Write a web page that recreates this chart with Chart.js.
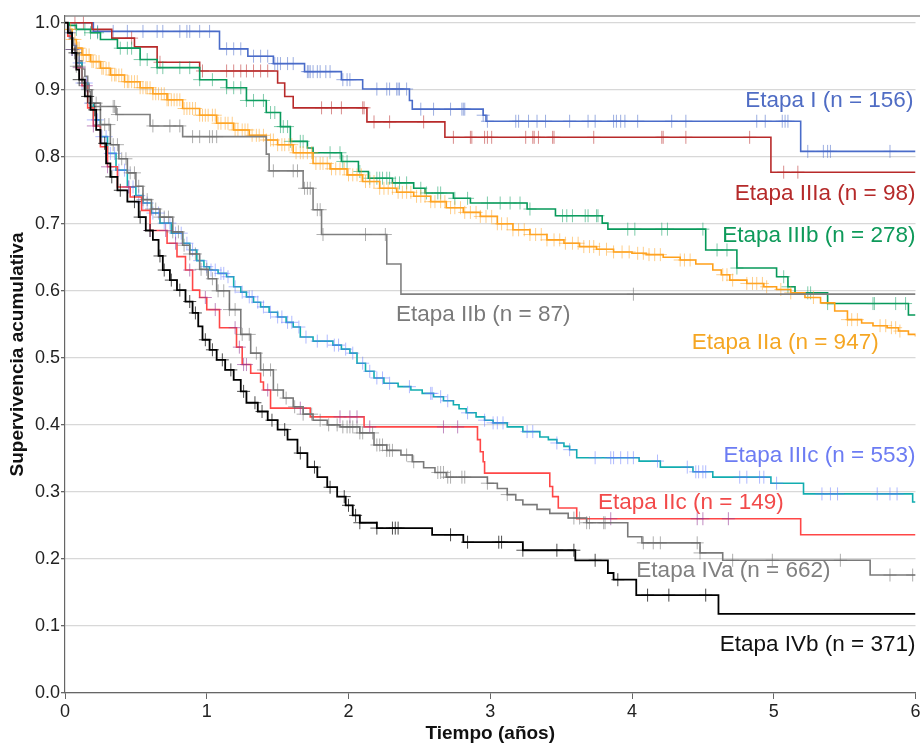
<!DOCTYPE html>
<html><head><meta charset="utf-8">
<script src="https://cdn.jsdelivr.net/npm/chart.js@4.4.1/dist/chart.umd.min.js"></script>
<style>html,body{margin:0;padding:0;background:#fff;overflow:hidden;width:920px;height:745px}#wrap{width:923px;height:745px;position:relative}</style>
</head><body><div id="wrap"><canvas id="c"></canvas></div>
<script>
// ---------- DATA (time in years, cumulative survival) ----------
const I_t = [0, 0.2, 1.09, 1.29, 1.47, 1.69, 1.95, 2.10, 2.43, 2.45, 2.95, 2.97, 5.19, 6.0];
const I_s = [1.0, 0.987, 0.961, 0.950, 0.939, 0.927, 0.915, 0.901, 0.884, 0.871, 0.862, 0.853, 0.808, 0.808];
const I_c = [0.23,0.34,0.44,0.55,0.65,0.69,0.81,0.86,0.88,0.95,1.02,1.14,1.19,1.24,1.33,1.38,1.43,1.48,1.50,1.52,1.57,1.61,1.71,1.72,1.73,1.75,1.78,1.80,1.84,1.87,1.96,1.99,2.01,2.20,2.27,2.29,2.34,2.35,2.36,2.41,2.51,2.60,2.72,2.80,2.81,2.82,2.95,2.98,3.18,3.20,3.27,3.33,3.39,3.56,3.69,3.74,3.87,3.89,3.92,3.95,4.04,4.28,4.38,4.88,4.94,5.06,5.08,5.10,5.24,5.35,5.38,5.40,5.82];

const IIIa_t = [0, 0.19, 0.33, 0.49, 0.65, 0.95, 1.50, 1.55, 1.61, 2.13, 2.68, 4.98, 6.0];
const IIIa_s = [1.0, 0.99, 0.977, 0.964, 0.941, 0.928, 0.91, 0.89, 0.873, 0.852, 0.829, 0.777, 0.777];
const IIIa_c = [0.07,0.13,0.47,0.67,0.97,1.14,1.19,1.24,1.28,1.33,1.38,1.43,1.81,1.88,1.95,2.10,2.11,2.18,2.29,2.53,2.74,2.86,2.87,2.96,2.98,3.01,3.25,3.30,3.31,3.34,3.44,3.45,3.73,4.21,4.22,4.38,4.83,5.07,5.17];

const IIIb_t = [0, 0.03, 0.08, 0.18, 0.25, 0.37, 0.53, 0.65, 0.95, 1.14, 1.28, 1.42, 1.52, 1.59, 1.71, 1.75, 1.95, 2.07, 2.14, 2.31, 2.46, 2.54, 2.74, 2.86, 3.26, 3.46, 3.79, 3.83, 4.52, 4.74, 5.02, 5.10, 5.15, 5.38, 5.95, 6.0];
const IIIb_s = [1.0, 0.996, 0.99, 0.985, 0.975, 0.962, 0.945, 0.933, 0.915, 0.903, 0.884, 0.866, 0.845, 0.823, 0.813, 0.806, 0.793, 0.778, 0.768, 0.761, 0.753, 0.746, 0.738, 0.731, 0.722, 0.712, 0.701, 0.692, 0.661, 0.634, 0.621, 0.606, 0.597, 0.581, 0.564, 0.564];
const IIIb_c = [0.08,0.14,0.18,0.23,0.39,0.44,0.47,0.53,0.58,0.65,0.69,0.81,0.88,0.95,1.04,1.14,1.19,1.24,1.28,1.33,1.40,1.45,1.48,1.52,1.54,1.57,1.59,1.66,1.68,1.75,1.87,1.94,1.96,1.99,2.08,2.15,2.20,2.22,2.24,2.27,2.29,2.33,2.36,2.41,2.51,2.55,2.63,2.65,2.75,2.84,2.98,3.07,3.14,3.21,3.28,3.51,3.54,3.58,3.67,3.69,3.75,3.76,3.97,4.02,4.21,4.25,4.50,4.60,4.67,4.74,5.07,5.10,5.24,5.26,5.38,5.70,5.71,5.86,5.93];

const IIa_t = [0, 0.02, 0.05, 0.08, 0.12, 0.18, 0.25, 0.32, 0.42, 0.53, 0.62, 0.72, 0.83, 0.95, 1.07, 1.19, 1.30, 1.42, 1.50, 1.61, 1.75, 1.87, 1.99, 2.10, 2.22, 2.34, 2.46, 2.58, 2.69, 2.81, 2.93, 3.05, 3.16, 3.28, 3.40, 3.52, 3.63, 3.75, 3.87, 4.00, 4.10, 4.22, 4.34, 4.45, 4.57, 4.63, 4.69, 4.81, 4.93, 5.02, 5.12, 5.22, 5.33, 5.43, 5.52, 5.62, 5.70, 5.80, 5.88, 5.95, 6.0];
const IIa_s = [1.0, 0.99, 0.975, 0.962, 0.952, 0.942, 0.932, 0.922, 0.912, 0.903, 0.894, 0.885, 0.872, 0.862, 0.85, 0.84, 0.832, 0.825, 0.818, 0.806, 0.79, 0.782, 0.773, 0.763, 0.753, 0.747, 0.741, 0.733, 0.724, 0.717, 0.711, 0.70, 0.691, 0.684, 0.676, 0.671, 0.666, 0.662, 0.658, 0.656, 0.654, 0.65, 0.646, 0.64, 0.631, 0.624, 0.616, 0.611, 0.606, 0.602, 0.597, 0.59, 0.582, 0.57, 0.557, 0.552, 0.548, 0.545, 0.54, 0.535, 0.532];
const IIa_c = [0.02,0.04,0.05,0.07,0.09,0.10,0.12,0.13,0.15,0.17,0.19,0.20,0.22,0.24,0.26,0.27,0.29,0.31,0.33,0.35,0.36,0.38,0.40,0.42,0.44,0.45,0.47,0.49,0.51,0.53,0.55,0.57,0.58,0.60,0.62,0.64,0.66,0.68,0.70,0.72,0.73,0.75,0.77,0.79,0.81,0.84,0.86,0.88,0.90,0.92,0.95,0.97,0.99,1.01,1.04,1.06,1.08,1.10,1.13,1.15,1.18,1.20,1.22,1.25,1.27,1.29,1.32,1.35,1.37,1.40,1.42,1.45,1.47,1.50,1.53,1.55,1.58,1.60,1.63,1.66,1.68,1.71,1.74,1.77,1.80,1.82,1.85,1.88,1.91,1.94,1.97,2.00,2.03,2.06,2.09,2.12,2.15,2.18,2.22,2.25,2.28,2.31,2.35,2.38,2.41,2.44,2.48,2.51,2.54,2.58,2.61,2.65,2.68,2.72,2.75,2.79,2.82,2.86,2.90,2.93,2.97,3.01,3.05,3.08,3.12,3.16,3.20,3.24,3.28,3.32,3.36,3.40,3.45,3.49,3.53,3.58,3.62,3.66,3.70,3.73,3.77,3.82,3.87,3.93,3.98,4.04,4.08,4.12,4.16,4.20,4.34,4.37,4.41,4.64,4.67,4.71,4.81,4.85,4.88,4.92,4.95,5.05,5.12,5.28,5.52,5.55,5.59,5.75,5.79,5.83,5.86,5.89];

const IIb_t = [0, 0.02, 0.04, 0.06, 0.08, 0.10, 0.12, 0.14, 0.16, 0.17, 0.18, 0.36, 0.60, 0.83, 1.42, 1.44, 1.68, 1.75, 1.81, 2.27, 2.37, 6.0];
const IIb_s = [1.0, 0.989, 0.977, 0.966, 0.954, 0.943, 0.931, 0.92, 0.908, 0.897, 0.875, 0.863, 0.846, 0.830, 0.804, 0.779, 0.753, 0.721, 0.684, 0.64, 0.595, 0.595];
const IIb_c = [0.34,0.35,0.37,0.62,0.74,0.81,0.90,0.95,1.02,1.04,1.07,1.47,1.61,1.64,1.69,1.71,1.73,1.78,1.80,1.82,2.12,2.26,4.01];

const IIIc_t = [0, 0.02, 0.05, 0.08, 0.12, 0.16, 0.20, 0.25, 0.30, 0.36, 0.44, 0.50, 0.55, 0.61, 0.67, 0.75, 0.83, 0.88, 0.93, 0.98, 1.02, 1.08, 1.14, 1.19, 1.24, 1.28, 1.33, 1.38, 1.44, 1.50, 1.56, 1.61, 1.66, 1.75, 1.89, 1.95, 2.01, 2.06, 2.12, 2.18, 2.25, 2.35, 2.44, 2.52, 2.60, 2.67, 2.74, 2.78, 2.83, 2.90, 2.96, 3.02, 3.12, 3.23, 3.35, 3.41, 3.47, 3.52, 3.56, 3.61, 4.05, 4.20, 4.43, 4.57, 4.98, 5.21, 5.98, 6.0];
const IIIc_s = [1.0, 0.985, 0.96, 0.94, 0.91, 0.88, 0.855, 0.83, 0.805, 0.78, 0.755, 0.742, 0.731, 0.716, 0.701, 0.686, 0.671, 0.661, 0.645, 0.636, 0.631, 0.626, 0.621, 0.606, 0.598, 0.591, 0.583, 0.576, 0.568, 0.561, 0.553, 0.546, 0.531, 0.525, 0.519, 0.513, 0.507, 0.492, 0.48, 0.47, 0.462, 0.457, 0.452, 0.447, 0.442, 0.436, 0.43, 0.424, 0.418, 0.412, 0.407, 0.403, 0.397, 0.39, 0.382, 0.378, 0.373, 0.368, 0.363, 0.351, 0.346, 0.337, 0.33, 0.322, 0.313, 0.297, 0.285, 0.285];
const IIIc_c = [0.03,0.05,0.07,0.10,0.12,0.15,0.18,0.20,0.23,0.26,0.29,0.32,0.35,0.38,0.42,0.45,0.48,0.52,0.55,0.58,0.62,0.66,0.70,0.74,0.78,0.82,0.86,0.90,0.95,1.00,1.03,1.06,1.10,1.12,1.15,1.20,1.25,1.30,1.32,1.36,1.40,1.45,1.50,1.53,1.57,1.60,1.65,1.70,1.78,1.85,1.90,1.93,1.98,2.03,2.10,2.15,2.20,2.24,2.29,2.43,2.58,2.59,2.65,2.70,2.84,2.96,3.02,3.05,3.09,3.26,3.30,3.47,3.56,3.74,3.85,3.87,3.92,3.97,4.01,4.18,4.39,4.45,4.47,4.50,4.52,4.76,4.81,4.90,4.93,5.02,5.34,5.40,5.45,5.73,5.82,5.87];

const IIc_t = [0, 0.02, 0.05, 0.08, 0.12, 0.16, 0.20, 0.25, 0.30, 0.37, 0.46, 0.54, 0.60, 0.72, 0.79, 0.85, 0.90, 0.95, 1.00, 1.09, 1.21, 1.25, 1.31, 1.38, 1.40, 1.45, 1.73, 2.11, 2.91, 2.93, 2.95, 2.96, 3.42, 3.44, 3.48, 3.61, 5.19, 6.0];
const IIc_s = [1.0, 0.98, 0.96, 0.933, 0.906, 0.873, 0.846, 0.815, 0.785, 0.755, 0.74, 0.72, 0.69, 0.671, 0.651, 0.631, 0.601, 0.59, 0.572, 0.545, 0.516, 0.49, 0.477, 0.464, 0.452, 0.425, 0.412, 0.397, 0.378, 0.36, 0.345, 0.328, 0.308, 0.293, 0.276, 0.26, 0.236, 0.236];
const IIc_c = [0.05,0.10,0.15,0.20,0.30,0.45,0.60,0.71,0.78,0.88,0.99,1.06,1.20,1.23,1.26,1.28,1.43,1.66,1.94,2.01,2.06,2.15,2.67,2.77,3.85,4.46,4.50,4.68];

const IVa_t = [0, 0.02, 0.05, 0.08, 0.12, 0.15, 0.19, 0.25, 0.32, 0.38, 0.44, 0.50, 0.55, 0.61, 0.67, 0.76, 0.83, 0.88, 0.95, 1.01, 1.07, 1.16, 1.24, 1.31, 1.38, 1.47, 1.54, 1.61, 1.68, 1.75, 1.85, 1.94, 2.08, 2.18, 2.27, 2.37, 2.45, 2.53, 2.61, 2.69, 2.98, 3.05, 3.12, 3.18, 3.23, 3.33, 3.42, 3.55, 3.68, 3.97, 4.07, 4.48, 4.64, 5.68, 6.0];
const IVa_s = [1.0, 0.985, 0.96, 0.935, 0.91, 0.9, 0.88, 0.848, 0.818, 0.797, 0.776, 0.756, 0.736, 0.722, 0.71, 0.688, 0.668, 0.655, 0.632, 0.618, 0.6, 0.572, 0.535, 0.507, 0.482, 0.452, 0.44, 0.427, 0.416, 0.407, 0.4, 0.397, 0.388, 0.37, 0.362, 0.355, 0.345, 0.336, 0.329, 0.322, 0.313, 0.305, 0.296, 0.288, 0.281, 0.274, 0.268, 0.261, 0.254, 0.233, 0.224, 0.209, 0.198, 0.176, 0.176];
const IVa_c = [0.03,0.05,0.08,0.10,0.13,0.16,0.19,0.22,0.25,0.28,0.31,0.34,0.37,0.40,0.43,0.46,0.49,0.52,0.55,0.58,0.61,0.64,0.67,0.70,0.73,0.76,0.80,0.84,0.88,0.92,0.96,1.00,1.04,1.08,1.12,1.16,1.20,1.25,1.30,1.35,1.40,1.45,1.50,1.56,1.62,1.68,1.74,1.80,1.86,1.92,1.96,1.99,2.01,2.03,2.06,2.08,2.10,2.17,2.20,2.22,2.24,2.27,2.29,2.31,2.41,2.46,2.63,2.65,2.67,2.70,2.72,2.80,2.82,2.98,3.12,3.59,3.63,3.68,3.70,3.80,3.81,4.08,4.15,4.20,4.46,4.48,4.71,4.99,5.47,5.82,5.98];

const IVb_t = [0, 0.02, 0.05, 0.08, 0.10, 0.14, 0.18, 0.22, 0.25, 0.29, 0.32, 0.37, 0.44, 0.52, 0.57, 0.62, 0.66, 0.69, 0.74, 0.79, 0.85, 0.90, 0.94, 0.97, 1.02, 1.07, 1.13, 1.19, 1.24, 1.28, 1.36, 1.43, 1.50, 1.57, 1.64, 1.71, 1.78, 1.85, 1.92, 1.98, 2.03, 2.08, 2.20, 2.59, 2.81, 3.23, 3.60, 3.83, 3.87, 4.03, 4.61, 6.0];
const IVb_s = [1.0, 0.985, 0.955, 0.93, 0.915, 0.89, 0.87, 0.84, 0.82, 0.79, 0.77, 0.75, 0.733, 0.71, 0.69, 0.676, 0.652, 0.631, 0.616, 0.601, 0.584, 0.567, 0.547, 0.527, 0.512, 0.497, 0.482, 0.467, 0.45, 0.433, 0.42, 0.407, 0.393, 0.378, 0.358, 0.337, 0.322, 0.307, 0.293, 0.28, 0.265, 0.254, 0.246, 0.236, 0.225, 0.213, 0.198, 0.179, 0.169, 0.146, 0.118, 0.118];
const IVb_c = [0.07,0.10,0.16,0.21,0.28,0.33,0.39,0.49,0.53,0.60,0.67,0.70,0.75,0.81,0.88,0.92,0.99,1.04,1.11,1.17,1.26,1.34,1.39,1.46,1.55,1.66,1.76,1.87,1.97,2.00,2.05,2.08,2.20,2.31,2.33,2.35,2.72,2.84,3.06,3.08,3.23,3.47,3.59,3.74,3.90,4.11,4.26,4.52];

// ---------- LABELS ----------
const labelText = ["Etapa I (n = 156)", "Etapa IIIa (n = 98)", "Etapa IIIb (n = 278)", "Etapa IIb (n = 87)", "Etapa IIa (n = 947)", "Etapa IIIc (n = 553)", "Etapa IIc (n = 149)", "Etapa IVa (n = 662)", "Etapa IVb (n = 371)"];
const labelX = [5.985, 6.0, 6.0, 2.95, 5.74, 6.0, 5.07, 5.40, 6.0];
const labelY = [0.884, 0.745, 0.682, 0.564, 0.522, 0.354, 0.284, 0.182, 0.072];
const labelAlign = ["right", "right", "right", "center", "right", "right", "right", "right", "right"];
const labelColor = ["#4f6cc4", "#b52a2a", "#0e9a5a", "#7a7a7a", "#f5a623", "#6c7cf3", "#f24a4a", "#808080", "#111111"];

// ---------- STYLE ----------
const series = [
  {t: IVb_t, s: IVb_s, c: IVb_c, line: "#000000", mark: "rgba(0,0,0,0.7)", w: 1.8},
  {t: IVa_t, s: IVa_s, c: IVa_c, line: "#7a7a7a", mark: "rgba(110,110,110,0.55)", w: 1.6},
  {t: IIc_t, s: IIc_s, c: IIc_c, line: "#ff4747", mark: "rgba(150,60,150,0.6)", w: 1.6},
  {t: IIIc_t, s: IIIc_s, c: IIIc_c, line: "#12adb0", mark: "rgba(100,120,255,0.5)", w: 1.6},
  {t: IIb_t, s: IIb_s, c: IIb_c, line: "#808080", mark: "rgba(120,120,120,0.6)", w: 1.6},
  {t: IIa_t, s: IIa_s, c: IIa_c, line: "#ffa01a", mark: "rgba(255,165,40,0.55)", w: 1.6},
  {t: IIIb_t, s: IIIb_s, c: IIIb_c, line: "#07995a", mark: "rgba(20,160,100,0.55)", w: 1.6},
  {t: IIIa_t, s: IIIa_s, c: IIIa_c, line: "#b82a2a", mark: "rgba(185,45,45,0.55)", w: 1.6},
  {t: I_t, s: I_s, c: I_c, line: "#4a6cc9", mark: "rgba(74,108,201,0.55)", w: 1.6}
];

function stepAt(ts, ss, t) {
  let v = ss[0];
  for (let i = 0; i < ts.length; i++) { if (ts[i] <= t) v = ss[i]; }
  return v;
}

const datasets = [];
series.forEach(se => {
  datasets.push({
    type: 'scatter',
    data: se.c.map(t => ({x: t, y: stepAt(se.t, se.s, t)})),
    showLine: false, pointStyle: 'cross', pointRadius: 6.5, pointHoverRadius: 6.5,
    pointBorderWidth: 1, borderColor: se.mark, backgroundColor: se.mark
  });
  datasets.push({
    type: 'line',
    data: se.t.map((t, i) => ({x: t, y: se.s[i]})),
    stepped: 'before', borderColor: se.line, borderWidth: se.w,
    pointRadius: 0, fill: false, tension: 0
  });
});

const overlay = {
  id: 'overlay',
  afterDatasetsDraw(chart) {
    const ctx = chart.ctx, a = chart.chartArea;
    const xs = chart.scales.x, ys = chart.scales.y;
    ctx.save();
    ctx.strokeStyle = '#8a8a8a'; ctx.lineWidth = 1.5;
    ctx.beginPath(); ctx.moveTo(a.left, a.top); ctx.lineTo(chart.width, a.top); ctx.stroke();
    ctx.font = '22.5px "Liberation Sans", Arial, sans-serif';
    ctx.textBaseline = 'middle';
    labelText.forEach((txt, i) => {
      ctx.fillStyle = labelColor[i];
      ctx.textAlign = labelAlign[i];
      ctx.fillText(txt, xs.getPixelForValue(labelX[i]), ys.getPixelForValue(labelY[i]));
    });
    ctx.restore();
  }
};

new Chart(document.getElementById('c'), {
  type: 'line',
  data: {datasets},
  options: {
    responsive: true, maintainAspectRatio: false, animation: false,
    layout: {padding: {top: 16, right: 5, left: 0, bottom: 0}},
    plugins: {legend: {display: false}, tooltip: {enabled: false}},
    scales: {
      x: {
        type: 'linear', min: 0, max: 6,
        ticks: {stepSize: 1, color: '#222', font: {family: 'Liberation Sans', size: 18}, padding: 2, maxRotation: 0},
        grid: {drawOnChartArea: false, drawTicks: true, tickLength: 6, tickColor: '#666'},
        border: {display: true, color: '#666', width: 1.2},
        title: {display: true, text: 'Tiempo (años)', color: '#111', font: {family: 'Liberation Sans', size: 19, weight: 'bold'}, padding: {top: 0, bottom: 0}},
        afterFit(scale) { scale.height = 52; }
      },
      y: {
        min: 0, max: 1.01,
        ticks: {stepSize: 0.1, includeBounds: false, color: '#222', font: {family: 'Liberation Sans', size: 18}, padding: 1,
          callback: v => v.toFixed(1)},
        grid: {color: '#d8d8d8', lineWidth: 1.3, drawTicks: true, tickLength: 4, tickColor: '#666'},
        border: {display: true, color: '#666', width: 1.2},
        title: {display: true, text: 'Supervivencia acumulativa', color: '#111', font: {family: 'Liberation Sans', size: 19, weight: 'bold'}, padding: {top: 6, bottom: 0}},
        afterFit(scale) { scale.width = 65; }
      }
    }
  },
  plugins: [overlay]
});
</script></body></html>
